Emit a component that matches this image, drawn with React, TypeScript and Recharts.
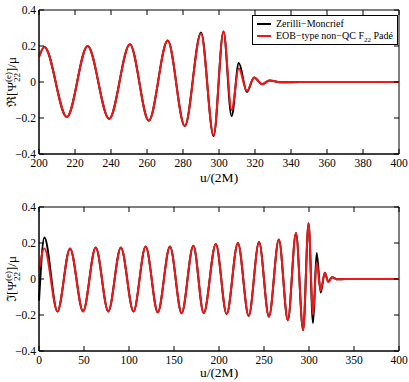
import React from "react";
import { LineChart, Line, XAxis, YAxis, ReferenceArea } from "recharts";

// top panel: real part, u in [200, 400]
const reU = [200, 203, 215.5, 227, 239, 250.5, 261, 271.5, 281, 290, 297, 302.5, 307, 311, 315.5, 319.5, 324, 328, 335, 345, 400];
const reZM = [0.14, 0.195, -0.195, 0.2, -0.205, 0.21, -0.215, 0.23, -0.245, 0.275, -0.3, 0.28, -0.19, 0.105, -0.055, 0.025, -0.012, 0.008, -0.002, 0, 0];
const reEOB = [0.14, 0.195, -0.195, 0.2, -0.205, 0.21, -0.215, 0.23, -0.245, 0.27, -0.295, 0.28, -0.155, 0.075, -0.05, 0.025, -0.012, 0.008, -0.002, 0, 0];

// bottom panel: imaginary part, u in [0, 400]
const imU = [0, 6, 20.5, 34.5, 49, 63, 77, 91, 105, 118.5, 132, 145.5, 158.5, 171.5, 183, 196.5, 208.5, 221, 233, 244.5, 255.5, 266.5, 276.5, 285.5, 293.5, 299.5, 304.5, 308.5, 313, 317.5, 321.5, 325.5, 332, 340, 400];
const imZM = [-0.12, 0.23, -0.18, 0.17, -0.18, 0.175, -0.18, 0.175, -0.18, 0.18, -0.185, 0.18, -0.19, 0.185, -0.19, 0.195, -0.195, 0.2, -0.205, 0.205, -0.21, 0.22, -0.23, 0.255, -0.285, 0.31, -0.245, 0.145, -0.075, 0.035, -0.015, 0.01, -0.002, 0, 0];
const imEOB = [0.05, 0.17, -0.18, 0.17, -0.18, 0.175, -0.18, 0.175, -0.18, 0.18, -0.185, 0.18, -0.19, 0.185, -0.19, 0.195, -0.195, 0.2, -0.205, 0.205, -0.21, 0.22, -0.23, 0.255, -0.285, 0.31, -0.2, 0.095, -0.065, 0.035, -0.015, 0.01, -0.002, 0, 0];

const reTicksX = [200, 220, 240, 260, 280, 300, 320, 340, 360, 380, 400];
const imTicksX = [0, 50, 100, 150, 200, 250, 300, 350, 400];
const ticksY = [-0.4, -0.2, 0, 0.2, 0.4];

const FONT = '"Liberation Serif", "Times New Roman", "DejaVu Serif", serif';
const RED = "#f01818";
const PLOT_W = 360;
const PLOT_H = 144;

const fmtY = (v: number) => (v === 0 ? "0" : v < 0 ? "\u2212" + Math.abs(v).toFixed(1) : v.toFixed(1));

const XTick = (props: any) => {
  const { x, y, payload } = props;
  return (
    <g>
      <line x1={x} y1={y} x2={x} y2={y - 5} stroke="#000" />
      <line x1={x} y1={y - PLOT_H} x2={x} y2={y - PLOT_H + 5} stroke="#000" />
      <text x={x} y={y + 13} textAnchor="middle" fontSize={11.5} fontFamily={FONT} fill="#000">
        {payload.value}
      </text>
    </g>
  );
};

const YTick = (props: any) => {
  const { x, y, payload } = props;
  return (
    <g>
      <line x1={x} y1={y} x2={x + 5} y2={y} stroke="#000" />
      <line x1={x + PLOT_W} y1={y} x2={x + PLOT_W - 5} y2={y} stroke="#000" />
      <text x={x - 3} y={y + 4} textAnchor="end" fontSize={11.5} fontFamily={FONT} fill="#000">
        {fmtY(payload.value)}
      </text>
    </g>
  );
};

const YLabel = (props: any) => {
  const { viewBox, sym } = props;
  const cx = 16;
  const cy = viewBox.y + viewBox.height / 2;
  return (
    <text
      x={cx}
      y={cy}
      transform={`rotate(-90, ${cx}, ${cy})`}
      textAnchor="middle"
      fontSize={13}
      fontFamily={FONT}
      fill="#000"
    >
      {sym}[Ψ
      <tspan fontSize={9} dy={-5}>(e)</tspan>
      <tspan fontSize={9} dx={-10} dy={9}>22</tspan>
      <tspan dx={1} dy={-4}>]/μ</tspan>
    </text>
  );
};

type PanelProps = {
  u: number[];
  zm: number[];
  eob: number[];
  ticksX: number[];
  sym: string;
  height: number;
  top: number;
  xAxisH: number;
  labelOffset: number;
};

function Panel({ u, zm, eob, ticksX, sym, height, top, xAxisH, labelOffset }: PanelProps) {
  const data = u.map((v, i) => ({ u: v, zm: zm[i], eob: eob[i] }));
  const x0 = ticksX[0];
  const x1 = ticksX[ticksX.length - 1];
  return (
    <LineChart width={409} height={height} data={data} margin={{ top, right: 10, left: 0, bottom: 0 }}>
      <ReferenceArea x1={x0} x2={x1} y1={-0.4} y2={0.4} fill="none" stroke="#000" strokeWidth={1} />
      <XAxis
        dataKey="u"
        type="number"
        domain={[x0, x1]}
        ticks={ticksX}
        height={xAxisH}
        tickSize={0}
        tickMargin={0}
        tickLine={false}
        axisLine={{ stroke: "#000" }}
        tick={<XTick />}
        interval={0}
        label={{
          value: "u/(2M)",
          position: "insideBottom",
          offset: labelOffset,
          fontSize: 13.5,
          fontFamily: FONT,
          fill: "#000",
        }}
      />
      <YAxis
        type="number"
        domain={[-0.4, 0.4]}
        ticks={ticksY}
        width={39}
        tickSize={0}
        tickMargin={0}
        tickLine={false}
        axisLine={{ stroke: "#000" }}
        tick={<YTick />}
        interval={0}
        label={<YLabel sym={sym} />}
      />
      <Line dataKey="zm" type="monotone" stroke="#000" strokeWidth={2} dot={false} isAnimationActive={false} />
      <Line dataKey="eob" type="monotone" stroke={RED} strokeWidth={2} dot={false} isAnimationActive={false} />
    </LineChart>
  );
}

export default function App() {
  return (
    <div style={{ position: "absolute", left: 0, top: 0, width: 409, height: 382, background: "#fff", fontFamily: FONT }}>
      <div style={{ position: "absolute", left: 0, top: 0 }}>
        <Panel u={reU} zm={reZM} eob={reEOB} ticksX={reTicksX} sym="ℜ" height={190} top={10} xAxisH={36} labelOffset={8} />
      </div>
      <div style={{ position: "absolute", left: 0, top: 190 }}>
        <Panel u={imU} zm={imZM} eob={imEOB} ticksX={imTicksX} sym="ℑ" height={192} top={17} xAxisH={31} labelOffset={5} />
      </div>
      <div
        style={{
          position: "absolute",
          left: 252,
          top: 15,
          width: 146,
          height: 30,
          border: "1px solid #000",
          background: "#fff",
          fontFamily: FONT,
          fontSize: 10,
          lineHeight: "12px",
          whiteSpace: "nowrap",
          boxSizing: "border-box",
        }}
      >
        <div style={{ display: "flex", alignItems: "center", marginTop: 2 }}>
          <span style={{ display: "inline-block", width: 14, height: 2, background: "#000", marginLeft: 4, marginRight: 5 }} />
          <span>Zerilli−Moncrief</span>
        </div>
        <div style={{ display: "flex", alignItems: "center" }}>
          <span style={{ display: "inline-block", width: 14, height: 2, background: RED, marginLeft: 4, marginRight: 5 }} />
          <span>
            EOB−type non−QC F<sub style={{ fontSize: 7, verticalAlign: -3, lineHeight: 0 }}>22</sub> Padé
          </span>
        </div>
      </div>
    </div>
  );
}
